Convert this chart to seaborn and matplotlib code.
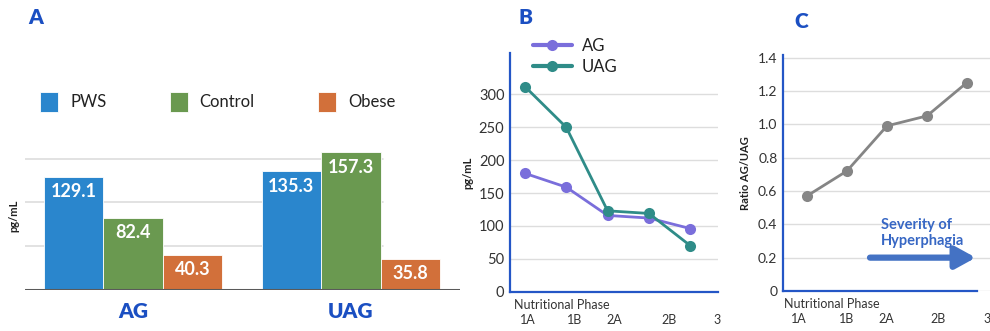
import matplotlib
matplotlib.use("Agg")
import matplotlib.pyplot as plt
import seaborn as sns
import pandas as pd

# ---------------- data ----------------
hormones = ["AG", "UAG"]
groups = ["PWS", "Control", "Obese"]
pws_vals = [129.1, 135.3]
control_vals = [82.4, 157.3]
obese_vals = [40.3, 35.8]

phases = ["1A", "1B", "2A", "2B", "3"]
ag_phase = [180, 159, 116, 112, 96]
uag_phase = [312, 250, 123, 119, 70]
ratio_phase = [0.57, 0.72, 0.99, 1.05, 1.25]

b_yticks = [0, 50, 100, 150, 200, 250, 300]
c_yticks = [0, 0.2, 0.4, 0.6, 0.8, 1.0, 1.2, 1.4]
c_yticklabels = ["0", "0.2", "0.4", "0.6", "0.8", "1.0", "1.2", "1.4"]

# ---------------- style ----------------
sns.set_theme(style="white")
plt.rcParams["font.family"] = ["Lato", "DejaVu Sans"]

BLUE_T = "#1B4FC2"
SPINE = "#2456C6"
bar_colors = ["#2A86CD", "#6A9950", "#D2703A"]
ag_col = "#7A6EDB"
uag_col = "#2F8C88"
ratio_col = "#858585"
grid_col = "#DDDDDD"
tick_col = "#333333"

fig = plt.figure(figsize=(9.9, 3.31), dpi=100)
W, H = 990, 331


def ax_px(l, r, t, b):
    return fig.add_axes([l / W, (H - b) / H, (r - l) / W, (b - t) / H])


# ================= Panel A =================
axA = ax_px(25, 460, 141, 290)
dfA = pd.DataFrame({
    "hormone": hormones * 3,
    "group": [g for g in groups for _ in hormones],
    "value": pws_vals + control_vals + obese_vals,
})
sns.barplot(data=dfA, x="hormone", y="value", hue="group", order=hormones,
            hue_order=groups, palette=bar_colors, width=0.82, ax=axA,
            edgecolor="white", linewidth=0.6, saturation=1)
axA.set_xlim(-0.495, 1.5)
axA.set_ylim(0, 170)
for y in [50, 100, 150]:
    axA.axhline(y, xmin=0, xmax=0.823, color=grid_col, lw=1.2, zorder=0)
axA.axhline(0, color="#5A5A5A", lw=2.2, zorder=3)
for s in axA.spines.values():
    s.set_visible(False)
axA.set_yticks([])
axA.set_xlabel("")
axA.set_ylabel("pg/mL", fontsize=8, fontweight="bold", labelpad=4, color="#222222")
axA.tick_params(axis="x", length=0, pad=9)
for lab in axA.get_xticklabels():
    lab.set_fontsize(15)
    lab.set_fontweight("heavy")
    lab.set_color(BLUE_T)
for cont in axA.containers:
    axA.bar_label(cont, fmt="%.1f", padding=-17, color="white",
                  fontsize=13, fontweight="bold")
legA = axA.legend(loc="upper left", bbox_to_anchor=(0.0, 1.43), ncol=3,
                  frameon=False, fontsize=12, handlelength=1.1,
                  handleheight=1.45, handletextpad=0.7, columnspacing=3.8)
for t in legA.get_texts():
    t.set_color("#222222")

# ================= Panel B =================
axB = ax_px(510, 718, 53, 291.7)
dfB = pd.DataFrame({"phase": list(range(len(phases))) * 2,
                    "value": ag_phase + uag_phase,
                    "series": ["AG"] * len(phases) + ["UAG"] * len(phases)})
sns.lineplot(data=dfB, x="phase", y="value", hue="series",
             palette=[ag_col, uag_col], marker="o", markersize=8,
             markeredgewidth=0, linewidth=2, ax=axB)
axB.set_xlim(-0.36, 4.67)
axB.set_ylim(0, 363)
axB.set_yticks(b_yticks)
axB.grid(axis="y", color=grid_col, lw=1)
axB.set_axisbelow(True)
axB.set_xticks([0.07, 1.21, 2.16, 3.49, 4.65])
axB.set_xticklabels(phases)
axB.tick_params(axis="x", length=0, pad=16, labelsize=9, colors=tick_col)
axB.tick_params(axis="y", length=0, pad=4, labelsize=10.5, colors=tick_col)
axB.set_xlabel("")
axB.set_ylabel("pg/mL", fontsize=8, fontweight="bold", labelpad=4, color="#222222")
for k in ["top", "right"]:
    axB.spines[k].set_visible(False)
for k in ["left", "bottom"]:
    axB.spines[k].set_color(SPINE)
    axB.spines[k].set_linewidth(1.6)
axB.text(0.02, -0.055, "Nutritional Phase", transform=axB.transAxes,
         fontsize=9, color=tick_col, va="center", ha="left")
legB = axB.legend(loc="upper left", bbox_to_anchor=(0.08, 1.09), frameon=False,
                  fontsize=12, handlelength=2.3, handletextpad=0.6,
                  labelspacing=0.3, borderaxespad=0)
for line in legB.get_lines():
    line.set_linewidth(3)
for t in legB.get_texts():
    t.set_color("#222222")

# ================= Panel C =================
axC = ax_px(783, 990, 55, 291)
dfC = pd.DataFrame({"phase": list(range(len(phases))), "ratio": ratio_phase})
sns.lineplot(data=dfC, x="phase", y="ratio", color=ratio_col, marker="o",
             markersize=8, markeredgewidth=0, linewidth=2, ax=axC)
axC.set_xlim(-0.6, 4.575)
axC.set_ylim(0, 1.415)
axC.set_yticks(c_yticks)
axC.set_yticklabels(c_yticklabels)
axC.grid(axis="y", color=grid_col, lw=1)
axC.set_axisbelow(True)
axC.set_xticks([-0.2, 1.0, 1.98, 3.28, 4.5])
axC.set_xticklabels(phases)
axC.tick_params(axis="x", length=0, pad=16, labelsize=9, colors=tick_col)
axC.tick_params(axis="y", length=0, pad=4, labelsize=10, colors=tick_col)
axC.set_xlabel("")
axC.set_ylabel("Ratio AG/UAG", fontsize=8, fontweight="bold", labelpad=5, color="#222222")
for k in ["top", "right"]:
    axC.spines[k].set_visible(False)
for k in ["left", "bottom"]:
    axC.spines[k].set_color(SPINE)
    axC.spines[k].set_linewidth(1.6)
axC.spines["bottom"].set_bounds(-0.6, 4.25)
axC.text(0.005, -0.055, "Nutritional Phase", transform=axC.transAxes,
         fontsize=9, color=tick_col, va="center", ha="left")
axC.annotate("", xy=(4.22, 0.2), xytext=(1.575, 0.2),
             arrowprops=dict(arrowstyle="-|>,head_length=1.0,head_width=0.55",
                             lw=4.5, color="#4472C4", shrinkA=0, shrinkB=0))
axC.text(1.85, 0.35, "Severity of\nHyperphagia", fontsize=10.5, fontweight="bold",
         color="#3767C4", ha="left", va="center", linespacing=1.2)

# ---------------- panel letters ----------------
for letter, x, y in [("A", 36, 18), ("B", 526, 18), ("C", 801, 22)]:
    fig.text(x / W, (H - y) / H, letter, fontsize=15, fontweight="heavy",
             color=BLUE_T, ha="center", va="center")

fig.savefig("out.png", dpi=100)
